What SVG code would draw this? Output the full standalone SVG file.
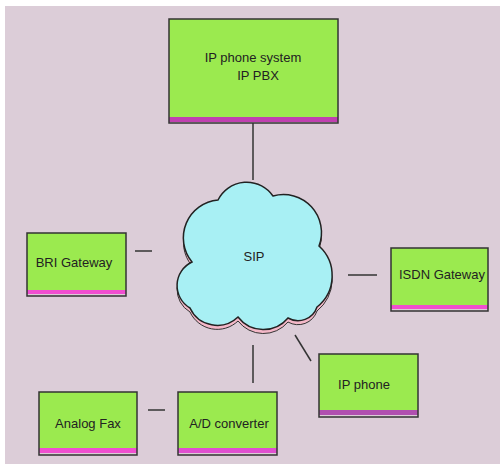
<svg xmlns="http://www.w3.org/2000/svg" width="500" height="464" viewBox="0 0 500 464">
<style>
.box{fill:#9bea4f;}
.frame{fill:none;stroke:#333;stroke-width:1.5;}
.lbl{font-family:"Liberation Sans",Arial,sans-serif;font-size:13px;fill:#222;text-anchor:middle;dominant-baseline:central;}
.conn line{stroke:#333;stroke-width:1.5;}
</style>
<rect x="0" y="0" width="500" height="464" fill="#ffffff"/>
<rect x="5" y="6" width="495" height="458" fill="#dccdd8"/>
<g class="conn" id="connectors">
<line x1="253" y1="123" x2="253" y2="180"/>
<line x1="135" y1="251" x2="152" y2="251"/>
<line x1="348" y1="275" x2="377" y2="275"/>
<line x1="295" y1="335" x2="311" y2="361"/>
<line x1="253" y1="345" x2="253" y2="383"/>
<line x1="148" y1="410" x2="165" y2="410"/>
</g>
<g id="sip">
<path d="M192,266 A38,38 0 0 1 218,204 A32,32 0 0 1 273,200 A38,38 0 0 1 319,250 A40,40 0 0 1 317,311 A20,20 0 0 1 288,322 A32,32 0 0 1 238,321 A30,30 0 0 1 190,312 A26,26 0 0 1 192,266 Z" fill="#f4b8c8" stroke="#333" stroke-width="1"/>
<path d="M192,262 A38,38 0 0 1 218,200 A32,32 0 0 1 273,196 A38,38 0 0 1 319,246 A40,40 0 0 1 317,307 A20,20 0 0 1 288,318 A32,32 0 0 1 238,317 A30,30 0 0 1 190,308 A26,26 0 0 1 192,262 Z" fill="#a8f0f4" stroke="#222" stroke-width="1.5"/>
<text class="lbl" x="254" y="256" font-size="14">SIP</text>
</g>
<g id="ippbx">
<rect class="box" x="169" y="19" width="169" height="98"/>
<rect x="169" y="117" width="169" height="5" fill="#c040b0"/>
<rect class="frame" x="169" y="19" width="169" height="104"/>
<text class="lbl" x="253" y="57">IP phone system</text>
<text class="lbl" x="258" y="75">IP PBX</text>
</g>
<g id="bri">
<rect class="box" x="27" y="233" width="99" height="57"/>
<rect x="27" y="290" width="99" height="4" fill="#f04fd0"/>
<rect class="frame" x="27" y="233" width="99" height="63"/>
<text class="lbl" x="74" y="262">BRI Gateway</text>
</g>
<g id="isdn">
<rect class="box" x="391" y="248" width="97" height="57"/>
<rect x="391" y="305" width="97" height="4" fill="#f04fd0"/>
<rect class="frame" x="391" y="248" width="97" height="63"/>
<text class="lbl" x="442" y="274">ISDN Gateway</text>
</g>
<g id="ipphone">
<rect class="box" x="319" y="354" width="99" height="56"/>
<rect x="319" y="410" width="99" height="5" fill="#b050b0"/>
<rect class="frame" x="319" y="354" width="99" height="63"/>
<text class="lbl" x="364" y="384">IP phone</text>
</g>
<g id="fax">
<rect class="box" x="39" y="392" width="98" height="56"/>
<rect x="39" y="448" width="98" height="5" fill="#f04fd0"/>
<rect class="frame" x="39" y="392" width="98" height="63"/>
<text class="lbl" x="88" y="423">Analog Fax</text>
</g>
<g id="adconv">
<rect class="box" x="178" y="392" width="99" height="56"/>
<rect x="178" y="448" width="99" height="5" fill="#e050d0"/>
<rect class="frame" x="178" y="392" width="99" height="63"/>
<text class="lbl" x="229" y="423">A/D converter</text>
</g>
</svg>
